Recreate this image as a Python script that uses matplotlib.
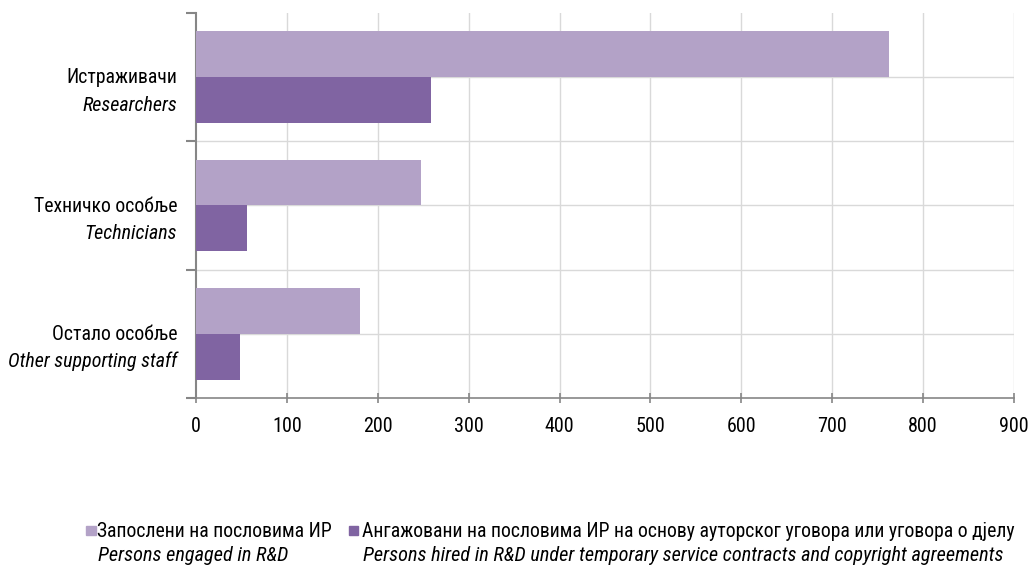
import matplotlib.pyplot as plt
from matplotlib import font_manager
from matplotlib.patches import Rectangle

# data
cats_sr = ['Истраживачи', 'Техничко особље', 'Остало особље']
cats_en = ['Researchers', 'Technicians', 'Other supporting staff']
engaged = [762, 248, 180]
hired = [259, 56, 48]
series_sr = ['Запослени на пословима ИР',
             'Ангажовани на пословима ИР на основу ауторског уговора или уговора о дјелу']
series_en = ['Persons engaged in R&D',
             'Persons hired in R&D under temporary service contracts and copyright agreements']
colors = ['#B3A2C7', '#8064A2']

# the original uses a narrow font; use a condensed one if there is one
names = {f.name for f in font_manager.fontManager.ttflist}
narrow = [n for n in ['Roboto Condensed', 'Liberation Sans Narrow'] if n in names]
fam = narrow[0] if narrow else 'Liberation Sans'
k = 1.0 if narrow else 0.845
plt.rcParams['font.family'] = [fam, 'DejaVu Sans']
fs_sr = 14.2 * k
fs_en = 14.4 * k
fs_leg_en = 14.6 * k
fs_tick = 14.5 * k

W, H = 1032, 568
fig = plt.figure(figsize=(W / 100, H / 100), dpi=100)
ax = fig.add_axes([196 / W, 1 - 398 / H, 818 / W, 385 / H])

y = list(range(len(cats_sr)))
h = 0.358
ax.barh([v - h / 2 for v in y], engaged, height=h, color=colors[0], zorder=3)
ax.barh([v + h / 2 for v in y], hired, height=h, color=colors[1], zorder=3)

ax.set_xlim(0, 900)
ax.set_ylim(2.5, -0.5)
ax.set_xticks(range(0, 1000, 100))
ax.tick_params(axis='x', labelsize=fs_tick, length=7, direction='inout',
               color='#868686', width=1.2, pad=10.5)

# boundaries between categories as ticks, labels drawn at the centres
ax.set_yticks([-0.5, 0.5, 1.5, 2.5])
ax.set_yticklabels([])
ax.tick_params(axis='y', length=7, color='#868686', width=1.5)
tr = ax.get_yaxis_transform()
for i in y:
    ax.text(-19 / 818, i + 0.047, cats_sr[i], transform=tr, ha='right',
            va='baseline', fontsize=fs_sr)
    ax.text(-19 / 818, i + 0.26, cats_en[i], transform=tr, ha='right',
            va='baseline', fontsize=fs_en, style='italic')

for x in range(100, 1000, 100):
    ax.axvline(x, color='#D9D9D9', lw=1, zorder=1)
for g in [0, 0.5, 1, 1.5, 2]:
    ax.axhline(g, color='#D9D9D9', lw=1, zorder=1)

for s in ['top', 'right']:
    ax.spines[s].set_visible(False)
ax.spines['left'].set_color('#868686')
ax.spines['left'].set_linewidth(1.5)
ax.spines['bottom'].set_color('#868686')
ax.spines['bottom'].set_linewidth(1.2)

# legend by hand: two-line labels, English line in italics
leg = [(86, 97), (348.5, 362)]
for (sx, tx), c, sr, en in zip(leg, colors, series_sr, series_en):
    fig.add_artist(Rectangle((sx / W, 1 - 535 / H), 9.5 / W, 9.5 / H,
                             transform=fig.transFigure, color=c))
    fig.text(tx / W, 1 - 537 / H, sr, ha='left', va='baseline', fontsize=fs_sr)
    fig.text((tx + 1) / W, 1 - 561 / H, en, ha='left', va='baseline',
             fontsize=fs_leg_en, style='italic')

fig.savefig('out.png', dpi=100)
